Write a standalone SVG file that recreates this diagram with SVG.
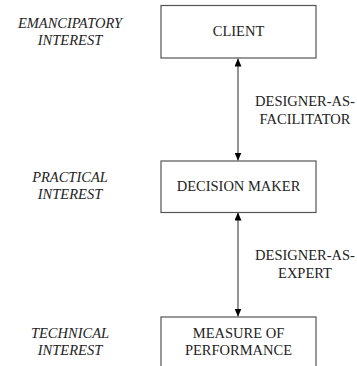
<svg xmlns="http://www.w3.org/2000/svg" width="357" height="366" viewBox="0 0 357 366">
<defs>
<style>
.box{fill:#fff;stroke:#555;stroke-width:1.2}
text{font-size:14.5px;fill:#222;text-anchor:middle}
.i{font-style:italic}
.c{stroke:#666;stroke-width:1.4;fill:none;marker-start:url(#a);marker-end:url(#a)}
</style>
<marker id="a" viewBox="0 0 8 7" refX="8" refY="3.5" markerWidth="8" markerHeight="7" markerUnits="userSpaceOnUse" orient="auto-start-reverse">
<path d="M0,0 L8,3.5 L0,7 Z" fill="#000"/>
</marker>
</defs>
<rect width="357" height="366" fill="#fff"/>
<g font-family="Liberation Serif, serif">
<g id="labels">
<text class="i" x="70" y="28">EMANCIPATORY</text>
<text class="i" x="70" y="45">INTEREST</text>
<text class="i" x="70" y="182">PRACTICAL</text>
<text class="i" x="70" y="199">INTEREST</text>
<text class="i" x="70" y="337.5">TECHNICAL</text>
<text class="i" x="70" y="355">INTEREST</text>
</g>
<g id="connectors">
<line class="c" x1="238" y1="58.5" x2="238" y2="160.5"/>
<line class="c" x1="238" y1="212.5" x2="238" y2="316.5"/>
<text x="305" y="106">DESIGNER-AS-</text>
<text x="305" y="123.5">FACILITATOR</text>
<text x="305" y="260">DESIGNER-AS-</text>
<text x="305" y="277.5">EXPERT</text>
</g>
<g id="client">
<rect class="box" x="161" y="5.5" width="155" height="52.5"/>
<text x="238.5" y="36">CLIENT</text>
</g>
<g id="decision-maker">
<rect class="box" x="161" y="161" width="155" height="51.5"/>
<text x="238.5" y="191">DECISION MAKER</text>
</g>
<g id="measure-of-performance">
<rect class="box" x="161" y="317" width="155" height="60"/>
<text x="238.5" y="337.5">MEASURE OF</text>
<text x="238.5" y="355">PERFORMANCE</text>
</g>
</g>
</svg>
